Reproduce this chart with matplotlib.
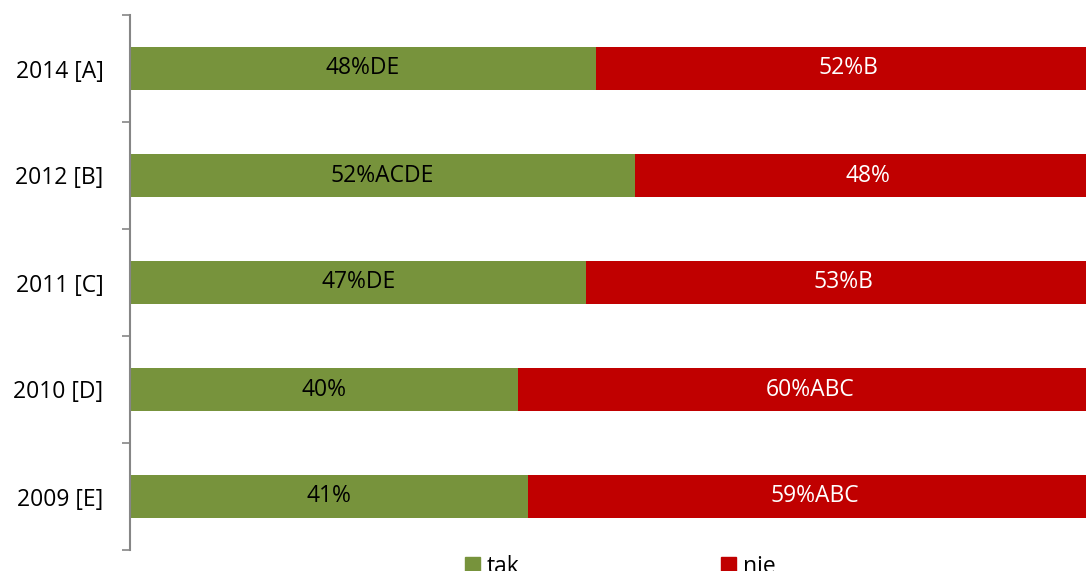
import matplotlib
matplotlib.use("Agg")
import matplotlib.pyplot as plt
from matplotlib.patches import Patch

plt.rcParams['font.family'] = ['Open Sans', 'DejaVu Sans']

years = ["2014 [A]", "2012 [B]", "2011 [C]", "2010 [D]", "2009 [E]"]
tak = [48, 52, 47, 40, 41]
nie = [52, 48, 53, 60, 59]
tak_labels = ["48%DE", "52%ACDE", "47%DE", "40%", "41%"]
nie_labels = ["52%B", "48%", "53%B", "60%ABC", "59%ABC"]

green = "#77933C"
red = "#C00000"
axis_grey = "#868686"

W, H = 1086, 571
fig = plt.figure(figsize=(W / 100, H / 100), dpi=100)
ax = fig.add_axes([130 / W, 1 - 550 / H, 971 / W, 535 / H])

pos = list(range(len(years)))[::-1]
ax.barh(pos, tak, height=0.4, color=green)
ax.barh(pos, nie, left=tak, height=0.4, color=red)

fs = 16.5
for p, t, n, tl, nl in zip(pos, tak, nie, tak_labels, nie_labels):
    ax.text(t / 2, p, tl, ha="center", va="center", fontsize=fs, color="black")
    ax.text(t + n / 2, p, nl, ha="center", va="center", fontsize=fs, color="white")

ax.set_xlim(0, 100)
ax.set_ylim(-0.5, len(years) - 0.5)
ax.set_yticks(pos)
ax.set_yticklabels(years, fontsize=fs)
ax.set_yticks([i - 0.5 for i in range(len(years) + 1)], minor=True)
ax.tick_params(axis="y", which="major", length=0, pad=19)
ax.tick_params(axis="y", which="minor", length=6, width=1.2, color=axis_grey, direction="out")
ax.set_xticks([])
for s in ["top", "right", "bottom"]:
    ax.spines[s].set_visible(False)
ax.spines["left"].set_color(axis_grey)
ax.spines["left"].set_linewidth(1.5)

handles = [Patch(color=green, label="tak"), Patch(color=red, label="nie")]
fig.legend(handles=handles, loc="center", bbox_to_anchor=(0.571, 1 - 567 / H),
           ncol=2, frameon=False, fontsize=fs, handlelength=0.65, handleheight=0.65,
           handletextpad=0.3, columnspacing=8.8, borderpad=0)

fig.savefig("out.png", dpi=100)
